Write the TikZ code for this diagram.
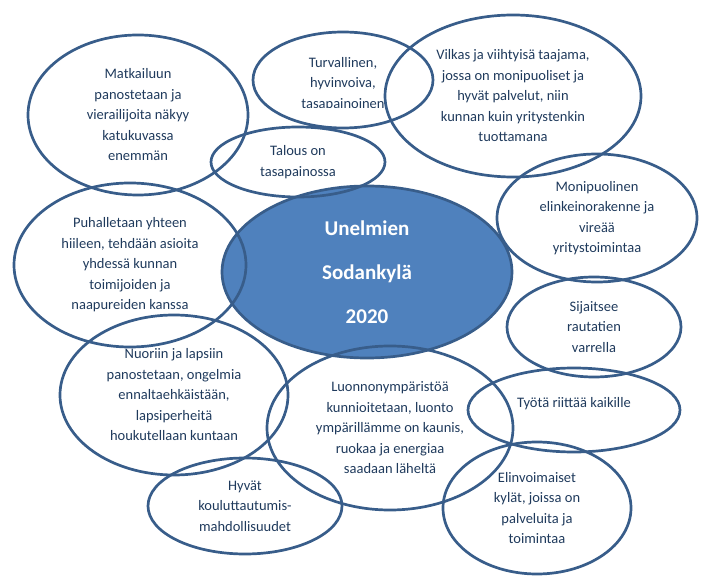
\documentclass[tikz,border=0pt]{standalone}
\usepackage{fontspec}
\setmainfont{Carlito}
\usetikzlibrary{shapes.geometric}
\definecolor{edgeblue}{HTML}{385D8A}
\definecolor{coreblue}{HTML}{4F81BD}
\definecolor{ink}{HTML}{1F3A5C}
\tikzset{
  bubble/.style={ellipse, draw=edgeblue, line width=2.7pt, inner sep=0pt,
    align=center, text=ink, font=\fontsize{14.5}{20.5}\selectfont},
  textonly/.style={inner sep=0pt, align=center, text=ink,
    font=\fontsize{14.5}{20.5}\selectfont},
  corebubble/.style={ellipse, draw=edgeblue, fill=coreblue, line width=2.7pt,
    inner sep=0pt, align=center, text=white,
    font=\fontsize{21}{44}\selectfont\bfseries}
}
\begin{document}
\begin{tikzpicture}[x=1pt,y=-1pt]
\useasboundingbox (0,0) rectangle (710,580);
% central bubble first, outlines of others pass over it
\node[corebubble, minimum width=290pt, minimum height=172pt] (core) at (367,272)
  {Unelmien\\Sodankylä\\2020};

\node[bubble, minimum width=220pt, minimum height=160pt] (matk) at (138,115)
  {Matkailuun\\panostetaan ja\\vierailijoita näkyy\\katukuvassa\\enemmän};

\node[bubble, minimum width=180pt, minimum height=96pt] (turv) at (343,80) {};
\begin{scope}
  \clip (250,40) rectangle (440,108);
  \node[textonly] (turvtext) at (343,84) {Turvallinen,\\hyvinvoiva,\\tasapainoinen};
\end{scope}

\node[bubble, minimum width=174pt, minimum height=70pt] (talous) at (298,162)
  {Talous on\\tasapainossa};

\node[bubble, minimum width=256pt, minimum height=162pt] (vilkas) at (513,96)
  {Vilkas ja viihtyisä taajama,\\jossa on monipuoliset ja\\hyvät palvelut, niin\\kunnan kuin yritystenkin\\tuottamana};

\node[bubble, minimum width=200pt, minimum height=128pt] (moni) at (597,218)
  {Monipuolinen\\elinkeinorakenne ja\\vireää\\yritystoimintaa};

\node[bubble, minimum width=232pt, minimum height=164pt] (puhal) at (130,265)
  {Puhalletaan yhteen\\hiileen, tehdään asioita\\yhdessä kunnan\\toimijoiden ja\\naapureiden kanssa};

\node[bubble, minimum width=174pt, minimum height=100pt] (sijait) at (594,327)
  {Sijaitsee\\rautatien\\varrella};

\node[bubble, minimum width=212pt, minimum height=84pt] (tyo) at (574,410) {};
\node[textonly] (tyotext) at (574,404) {Työtä riittää kaikille};

\node[bubble, minimum width=228pt, minimum height=160pt] (nuor) at (174,395)
  {Nuoriin ja lapsiin\\panostetaan, ongelmia\\ennaltaehkäistään,\\lapsiperheitä\\houkutellaan kuntaan};

\node[bubble, minimum width=246pt, minimum height=164pt] (luonto) at (390,428)
  {Luonnonympäristöä\\kunnioitetaan, luonto\\ympärillämme on kaunis,\\ruokaa ja energiaa\\saadaan läheltä};

\node[bubble, minimum width=188pt, minimum height=132pt] (elin) at (537,508)
  {Elinvoimaiset\\kylät, joissa on\\palveluita ja\\toimintaa};

\node[bubble, minimum width=194pt, minimum height=96pt] (hyvat) at (245,506)
  {Hyvät\\kouluttautumis-\\mahdollisuudet};
\end{tikzpicture}
\end{document}
